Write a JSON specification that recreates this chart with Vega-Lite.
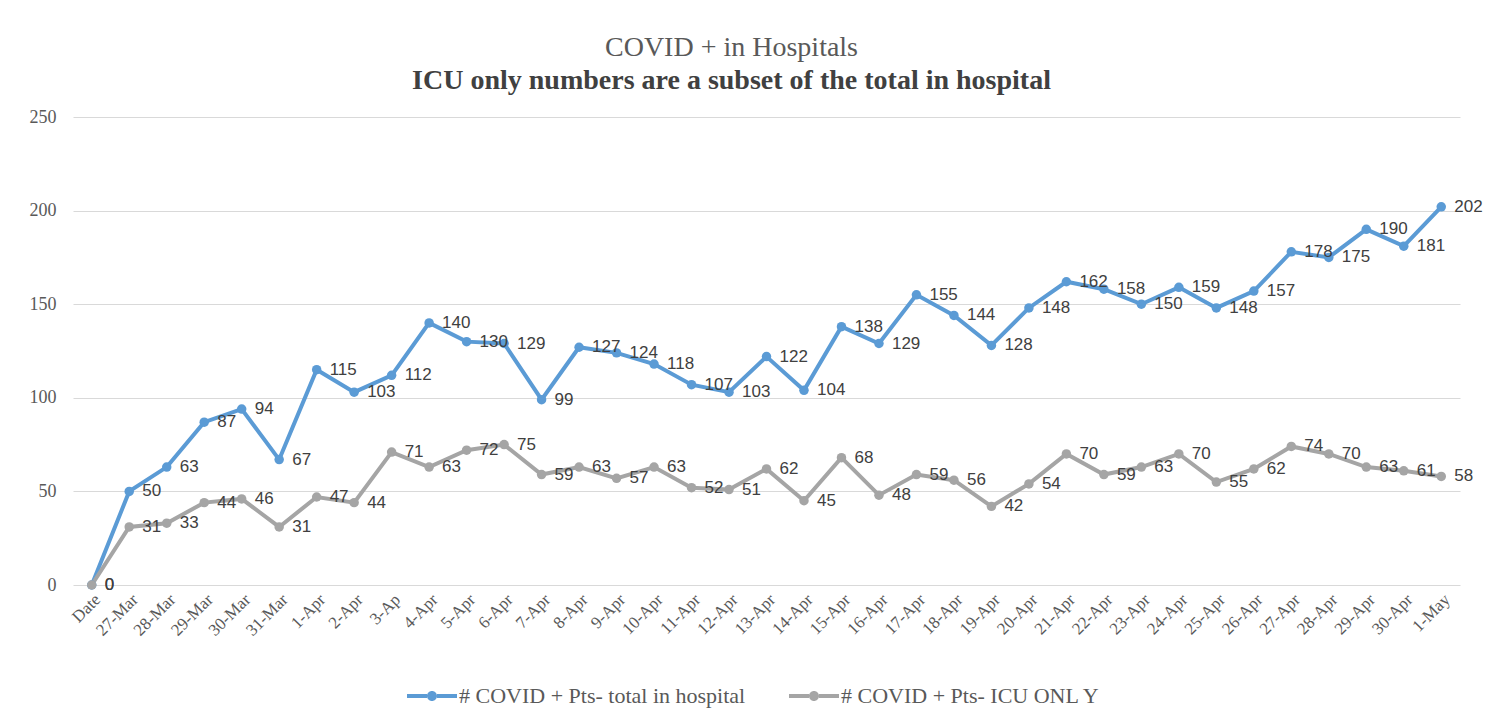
{
  "$schema": "https://vega.github.io/schema/vega-lite/v6.json",
  "width": 1387,
  "height": 468,
  "autosize": {"type": "none"},
  "padding": {"left": 73, "top": 117, "right": 27, "bottom": 141},
  "background": "white",
  "config": {"view": {"stroke": null}, "font": "Liberation Serif"},
  "title": {
    "text": "COVID + in Hospitals",
    "subtitle": "ICU only numbers  are a subset of the total in  hospital",
    "anchor": "middle",
    "dx": -35,
    "offset": 13,
    "font": "Liberation Serif",
    "fontSize": 28,
    "fontWeight": "normal",
    "color": "#595959",
    "subtitleFont": "Liberation Serif",
    "subtitleFontSize": 28,
    "subtitleFontWeight": "bold",
    "subtitleColor": "#404040",
    "subtitlePadding": 5
  },
  "data": {
    "values": [
      {"date": "Date", "total": 0, "icu": 0},
      {"date": "27-Mar", "total": 50, "icu": 31},
      {"date": "28-Mar", "total": 63, "icu": 33},
      {"date": "29-Mar", "total": 87, "icu": 44},
      {"date": "30-Mar", "total": 94, "icu": 46},
      {"date": "31-Mar", "total": 67, "icu": 31},
      {"date": "1-Apr", "total": 115, "icu": 47},
      {"date": "2-Apr", "total": 103, "icu": 44},
      {"date": "3-Ap", "total": 112, "icu": 71},
      {"date": "4-Apr", "total": 140, "icu": 63},
      {"date": "5-Apr", "total": 130, "icu": 72},
      {"date": "6-Apr", "total": 129, "icu": 75},
      {"date": "7-Apr", "total": 99, "icu": 59},
      {"date": "8-Apr", "total": 127, "icu": 63},
      {"date": "9-Apr", "total": 124, "icu": 57},
      {"date": "10-Apr", "total": 118, "icu": 63},
      {"date": "11-Apr", "total": 107, "icu": 52},
      {"date": "12-Apr", "total": 103, "icu": 51},
      {"date": "13-Apr", "total": 122, "icu": 62},
      {"date": "14-Apr", "total": 104, "icu": 45},
      {"date": "15-Apr", "total": 138, "icu": 68},
      {"date": "16-Apr", "total": 129, "icu": 48},
      {"date": "17-Apr", "total": 155, "icu": 59},
      {"date": "18-Apr", "total": 144, "icu": 56},
      {"date": "19-Apr", "total": 128, "icu": 42},
      {"date": "20-Apr", "total": 148, "icu": 54},
      {"date": "21-Apr", "total": 162, "icu": 70},
      {"date": "22-Apr", "total": 158, "icu": 59},
      {"date": "23-Apr", "total": 150, "icu": 63},
      {"date": "24-Apr", "total": 159, "icu": 70},
      {"date": "25-Apr", "total": 148, "icu": 55},
      {"date": "26-Apr", "total": 157, "icu": 62},
      {"date": "27-Apr", "total": 178, "icu": 74},
      {"date": "28-Apr", "total": 175, "icu": 70},
      {"date": "29-Apr", "total": 190, "icu": 63},
      {"date": "30-Apr", "total": 181, "icu": 61},
      {"date": "1-May", "total": 202, "icu": 58}
    ]
  },
  "transform": [{"fold": ["total", "icu"], "as": ["series", "count"]}],
  "encoding": {
    "x": {
      "field": "date",
      "type": "nominal",
      "sort": null,
      "scale": {"type": "point", "padding": 0.5},
      "axis": {
        "title": null,
        "labelAngle": -45,
        "labelFont": "Liberation Serif",
        "labelFontSize": 17,
        "labelColor": "#595959",
        "ticks": false,
        "domain": false,
        "labelPadding": 6
      }
    },
    "y": {
      "field": "count",
      "type": "quantitative",
      "scale": {"domain": [0, 250], "nice": false},
      "axis": {
        "title": null,
        "values": [0, 50, 100, 150, 200, 250],
        "grid": true,
        "gridColor": "#D9D9D9",
        "gridWidth": 1,
        "domain": false,
        "ticks": false,
        "labelFont": "Liberation Serif",
        "labelFontSize": 18,
        "labelColor": "#595959",
        "labelPadding": 17
      }
    },
    "color": {
      "field": "series",
      "type": "nominal",
      "scale": {"domain": ["total", "icu"], "range": ["#5B9BD5", "#A5A5A5"]},
      "legend": {
        "title": null,
        "orient": "none",
        "legendX": 334,
        "legendY": 554,
        "direction": "horizontal",
        "labelExpr": "datum.value == 'total' ? '# COVID + Pts- total in hospital' : '# COVID + Pts- ICU ONL Y'",
        "labelFont": "Liberation Serif",
        "labelFontSize": 22,
        "labelColor": "#595959",
        "labelLimit": 400,
        "labelOffset": 2,
        "columnPadding": 43,
        "symbolType": "M-1,-0.08 L-0.2,-0.08 L-0.2,0.08 L-1,0.08 Z M-0.2,0 A0.2,0.2 0 1,0 0.2,0 A0.2,0.2 0 1,0 -0.2,0 Z M0.2,-0.08 L1,-0.08 L1,0.08 L0.2,0.08 Z",
        "symbolSize": 2500,
        "symbolStrokeWidth": 0,
        "symbolOpacity": 1,
        "encode": {
          "symbols": {
            "update": {
              "fill": {"scale": "color", "field": "value"},
              "stroke": {"value": "transparent"}
            }
          }
        }
      }
    }
  },
  "layer": [
    {"mark": {"type": "line", "strokeWidth": 4}},
    {"mark": {"type": "point", "filled": true, "size": 90, "opacity": 1}},
    {
      "mark": {
        "type": "text",
        "align": "left",
        "baseline": "middle",
        "dx": 13,
        "font": "Liberation Sans",
        "fontSize": 17,
        "color": "#404040"
      },
      "encoding": {
        "text": {"field": "count", "type": "quantitative"},
        "color": {"value": "#404040"}
      }
    }
  ]
}
